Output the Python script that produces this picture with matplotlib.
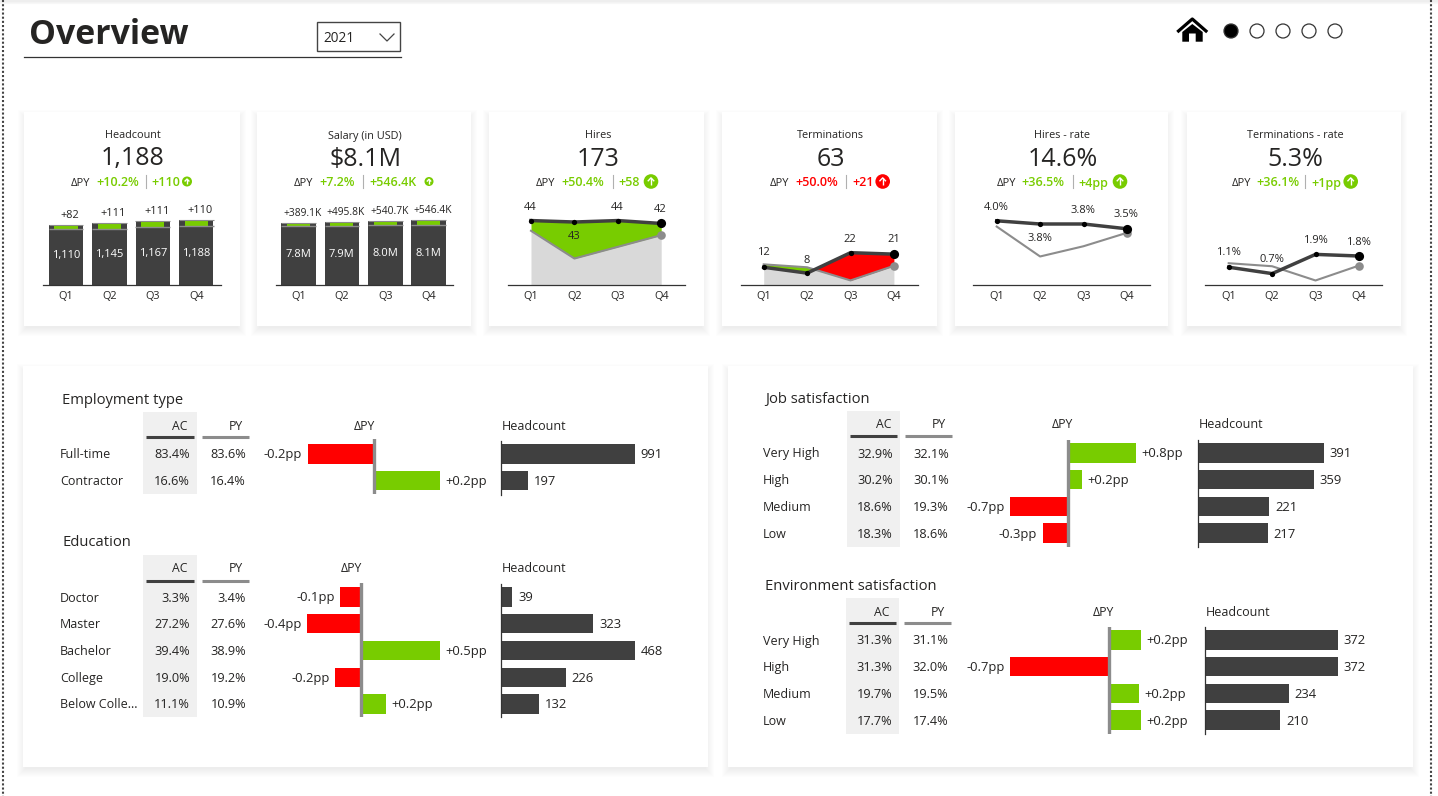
import matplotlib
matplotlib.use("Agg")
import matplotlib.pyplot as plt
from matplotlib.patches import Rectangle, Circle, Polygon

W, H = 1438, 796
GREEN = "#78CC00"
RED = "#FF0000"
DARK = "#404040"
GREY = "#8C8C8C"
AREA = "#D9D9D9"
INK = "#252423"
FONT = "Open Sans"

QUARTERS = ["Q1", "Q2", "Q3", "Q4"]

# KPI headers
kpi_titles = ["Headcount", "Salary (in USD)", "Hires", "Terminations", "Hires - rate", "Terminations - rate"]
kpi_values = ["1,188", "$8.1M", "173", "63", "14.6%", "5.3%"]
kpi_delta_pct = ["+10.2%", "+7.2%", "+50.4%", "+50.0%", "+36.5%", "+36.1%"]
kpi_delta_abs = ["+110", "+546.4K", "+58", "+21", "+4pp", "+1pp"]

# quarterly bars
headcount_ac = [1110, 1145, 1167, 1188]
headcount_delta = [82, 111, 111, 110]
salary_ac = [7.8, 7.9, 8.0, 8.1]
salary_delta = [0.3891, 0.4958, 0.5407, 0.5464]
salary_delta_labels = ["+389.1K", "+495.8K", "+540.7K", "+546.4K"]

# quarterly lines
hires_ac = [44, 43, 44, 42]
hires_py = [37, 18, 26, 34]
terminations_ac = [12, 8, 22, 21]
terminations_py = [14, 12, 3, 13]
hires_rate_ac = [4.0, 3.8, 3.8, 3.5]
hires_rate_py = [3.64, 1.77, 2.41, 3.25]
term_rate_ac = [1.1, 0.7, 1.9, 1.8]
term_rate_py = [1.35, 1.16, 0.27, 1.2]

# breakdown tables
employment_cats = ["Full-time", "Contractor"]
employment_ac = [83.4, 16.6]
employment_py = [83.6, 16.4]
employment_delta = [-0.2, 0.2]
employment_head = [991, 197]

education_cats = ["Doctor", "Master", "Bachelor", "College", "Below Colle..."]
education_ac = [3.3, 27.2, 39.4, 19.0, 11.1]
education_py = [3.4, 27.6, 38.9, 19.2, 10.9]
education_delta = [-0.145, -0.37, 0.54, -0.18, 0.17]
education_head = [39, 323, 468, 226, 132]

satisfaction_cats = ["Very High", "High", "Medium", "Low"]
job_ac = [32.9, 30.2, 18.6, 18.3]
job_py = [32.1, 30.1, 19.3, 18.6]
job_delta = [0.8, 0.16, -0.68, -0.3]
job_head = [391, 359, 221, 217]

env_ac = [31.3, 31.3, 19.7, 17.7]
env_py = [31.1, 32.0, 19.5, 17.4]
env_delta = [0.23, -0.7, 0.21, 0.23]
env_head = [372, 372, 234, 210]

plt.rcParams["font.family"] = [FONT, "DejaVu Sans"]

fig = plt.figure(figsize=(W / 100, H / 100), dpi=100, facecolor="white")

# page layer, in pixel coordinates
page = fig.add_axes([0, 0, 1, 1])
page.set_xlim(0, W)
page.set_ylim(H, 0)
page.axis("off")


def px_axes(left, top, right, bottom):
    ax = fig.add_axes([left / W, 1 - bottom / H, (right - left) / W, (bottom - top) / H])
    ax.patch.set_alpha(0)
    return ax


def card(left, top, right, bottom):
    # soft drop shadow, stronger towards the bottom edge
    for grow in range(-2, 7):
        page.add_patch(Rectangle((left - grow, top - grow + 4), right - left + 2 * grow,
                                 bottom - top + 2 * grow, fc="black", ec="none", alpha=0.007))
    page.add_patch(Rectangle((left, top), right - left, bottom - top, fc="white", ec="none"))


def text(x, y, s, size=9, color=INK, ha="left", **kw):
    page.text(x, y + 1, s, fontsize=size, color=color, ha=ha, va="center", **kw)


def kpi_header(i, center, dpy_x, pct_x, sep_x, abs_x, icon_x, icon_r, color=GREEN):
    text(center, 135, kpi_titles[i], size=7.8, ha="center")
    text(center + 0.5, 158, kpi_values[i], size=18, ha="center")
    text(dpy_x, 182, "ΔPY", size=8, ha="left")
    text(pct_x, 182, kpi_delta_pct[i], size=9, color=color, ha="left", fontweight="semibold")
    page.plot([sep_x, sep_x], [175, 188], color="#B0B0B0", lw=0.8)
    text(abs_x, 182, kpi_delta_abs[i], size=9, color=color, ha="left", fontweight="semibold")
    page.add_patch(Circle((icon_x, 181.5), icon_r, fc=color, ec="none"))
    page.plot([icon_x, icon_x], [181.5 + icon_r * 0.5, 181.5 - icon_r * 0.5], color="white", lw=1, solid_capstyle="butt")
    page.plot([icon_x - icon_r * 0.38, icon_x, icon_x + icon_r * 0.38],
              [181.5 - icon_r * 0.1, 181.5 - icon_r * 0.5, 181.5 - icon_r * 0.1], color="white", lw=1)


def spark_axes(first_x, left, right, y_scale):
    pitch = 43.4
    base = 284.8
    ax = px_axes(left, 190, right, base)
    ax.set_xlim((left - first_x) / pitch, (right - first_x) / pitch)
    ax.set_ylim(0, (base - 190) / y_scale)
    for side in ["top", "left", "right"]:
        ax.spines[side].set_visible(False)
    ax.spines["bottom"].set_color("#333333")
    ax.spines["bottom"].set_linewidth(0.9)
    ax.set_yticks([])
    ax.set_xticks(range(4), QUARTERS)
    ax.tick_params(axis="x", length=0, pad=4.5, labelsize=7.8, labelcolor=INK)
    return ax


def bars(first_x, left, right, y_scale, ac, delta, labels, bar_labels, label_size):
    ax = spark_axes(first_x, left, right, y_scale)
    py = [a - d for a, d in zip(ac, delta)]
    x = list(range(4))
    ax.bar(x, ac, width=0.795, color=DARK)
    ax.hlines(ac, [i - 0.4 for i in x], [i + 0.4 for i in x], color=GREY, lw=0.8)
    ax.hlines(py, [i - 0.4 for i in x], [i + 0.4 for i in x], color=GREY, lw=1)
    ax.bar(x, delta, bottom=py, width=0.53, color=GREEN)
    for i in x:
        ax.annotate(labels[i], (i, ac[i]), xytext=(2.8, 6.8), textcoords="offset points",
                    ha="center", va="center", fontsize=label_size, color=INK)
        ax.annotate(bar_labels[i], (i, ac[i] * 0.5), xytext=(0, -0.5), textcoords="offset points",
                    ha="center", va="center", fontsize=8, color="white")
    return ax


def lines(first_x, left, right, y_scale, ac, py, labels, label_dy, fill=None):
    ax = spark_axes(first_x, left, right, y_scale)
    x = list(range(4))
    if fill is not None:
        above, below = fill
        ax.fill_between(x, py, color=AREA, lw=0)
        ax.fill_between(x, ac, py, where=[a >= p for a, p in zip(ac, py)], interpolate=True, color=above, lw=0)
        ax.fill_between(x, ac, py, where=[a < p for a, p in zip(ac, py)], interpolate=True, color=below, lw=0)
    ax.plot(x, py, color=GREY, lw=1.5, clip_on=False)
    ax.plot(x[-1], py[-1], "o", color=GREY, ms=6.2, mew=0, clip_on=False)
    ax.plot(x, ac, color=DARK, lw=2.5, clip_on=False)
    ax.plot(x, ac, "o", color="black", ms=3.8, mew=0, clip_on=False)
    ax.plot(x[-1], ac[-1], "o", color="black", ms=6.6, mew=0, clip_on=False)
    for i in x:
        ax.annotate(labels[i], (i, ac[i]), xytext=(-0.4, label_dy[i] - 0.7), textcoords="offset points",
                    ha="center", va="center", fontsize=8, color=INK)
    return ax


def table(title, cats, ac, py, delta, head, title_xy, cat_x, bg, header_y, line_y, first_y,
          pitch, delta_center, zero_x, delta_scale, delta_span, head_x, head_scale, head_span):
    n = len(cats)
    bg_l, bg_r, bg_t, bg_b = bg
    text(title_xy[0], title_xy[1] + 1, title, size=10.6)
    page.add_patch(Rectangle((bg_l, bg_t), bg_r - bg_l, bg_b - bg_t, fc="#F0F0F0", ec="none"))
    text(bg_r - 9, header_y, "AC", size=8.8, ha="right")
    text(bg_r + 46, header_y, "PY", size=8.8, ha="right")
    page.plot([bg_l + 3, bg_r - 3], [line_y, line_y], color=DARK, lw=2.2, solid_capstyle="butt")
    page.plot([bg_r + 5, bg_r + 52], [line_y, line_y], color=GREY, lw=2.2, solid_capstyle="butt")
    text(delta_center, header_y, "ΔPY", size=8.8, ha="center")
    text(head_x + 1, header_y, "Headcount", size=9)
    for i in range(n):
        y = first_y + i * pitch
        text(cat_x, y, cats[i], size=9)
        text(bg_r - 7, y, f"{ac[i]:.1f}%", size=9.2, ha="right")
        text(bg_r + 49, y, f"{py[i]:.1f}%", size=9.2, ha="right")

    # deviation bars
    rows = list(range(n))
    d_ax = px_axes(zero_x - 170, delta_span[0], zero_x + 170, delta_span[1])
    d_ax.set_xlim(-170 / delta_scale, 170 / delta_scale)
    d_ax.set_ylim((delta_span[1] - first_y) / pitch, (delta_span[0] - first_y) / pitch)
    d_ax.axis("off")
    colors = [GREEN if v > 0 else RED for v in delta]
    d_ax.barh(rows, delta, height=0.72, color=colors)
    d_ax.axvline(0, color=GREY, lw=2.4)
    for i, v in enumerate(delta):
        off = 3.8 if v > 0 else -3.8
        d_ax.annotate(f"{v:+.1f}pp", (v, i), xytext=(off, -0.7), textcoords="offset points",
                      ha="left" if v > 0 else "right", va="center", fontsize=9.4, color=INK)

    # headcount bars
    h_ax = px_axes(head_x, head_span[0], head_x + 200, head_span[1])
    h_ax.set_xlim(0, 200 / head_scale)
    h_ax.set_ylim((head_span[1] - first_y) / pitch, (head_span[0] - first_y) / pitch)
    h_ax.barh(rows, head, height=0.72, color=DARK)
    for side in ["top", "bottom", "right"]:
        h_ax.spines[side].set_visible(False)
    h_ax.spines["left"].set_linewidth(0.9)
    h_ax.spines["left"].set_color("#333333")
    h_ax.set_xticks([])
    h_ax.set_yticks([])
    for i, v in enumerate(head):
        h_ax.annotate(f"{v}", (v, i), xytext=(4.2, -0.7), textcoords="offset points",
                      ha="left", va="center", fontsize=9.4, color=INK)


# page furniture
for y in range(0, 4):
    page.plot([0, W], [y, y], color="black", alpha=0.06 - y * 0.012, lw=1)
for x in (2.5, 1430.5):
    page.plot([x, x], [0, H], color="#444444", lw=1.5, linestyle=(0, (1, 1)))

text(29, 34.5, "Overview", size=24.4, color=INK, fontweight="bold")
page.plot([24, 401], [57, 57], color="#333333", lw=0.9)
page.add_patch(Rectangle((317, 22), 83, 28.5, fc="white", ec="#444444", lw=1))
text(323, 37, "2021", size=9.8)
page.plot([380, 387, 394], [34, 41, 34], color="#444444", lw=0.9)

page.plot([1178.5, 1192.3, 1206], [31, 19, 31], color="black", lw=2.3)
page.add_patch(Polygon([(1192.3, 24), (1202.7, 32), (1202.7, 41.7), (1195.7, 41.7), (1195.7, 33.5),
                        (1189, 33.5), (1189, 41.7), (1182.3, 41.7), (1182.3, 32)], fc="black", ec="none"))
for i, x in enumerate([1231, 1257, 1283, 1309, 1335]):
    page.add_patch(Circle((x, 31), 7, fc="black" if i == 0 else "white", ec="#333333", lw=0.9))

# KPI cards
for left, right in [(24, 240), (257, 471), (489, 704), (722, 937), (955, 1168), (1187, 1401)]:
    card(left, 112, right, 326)

kpi_header(0, 132.5, 71, 96, 145.5, 151, 187, 5)
kpi_header(1, 365, 294, 319.5, 362.5, 369, 429, 4.5)
kpi_header(2, 597.7, 536, 561, 612.5, 618.7, 651, 7.3)
kpi_header(3, 830, 770, 795, 846, 852, 882.7, 7.3, color=RED)
kpi_header(4, 1062, 996.7, 1021.7, 1073, 1078.7, 1120, 7.3)
kpi_header(5, 1295, 1231.7, 1256.7, 1304.7, 1311, 1350.7, 7.3)

bars(66, 43, 221, 0.0543, headcount_ac, headcount_delta,
     [f"+{v}" for v in headcount_delta], [f"{v:,}" for v in headcount_ac], 7.8)
bars(298.5, 276, 452.5, 7.96, salary_ac, salary_delta,
     salary_delta_labels, [f"{v:.1f}M" for v in salary_ac], 7.4)

lines(531, 508, 685, 1.46, hires_ac, hires_py, [str(v) for v in hires_ac], [10, -10, 10, 11], fill=(GREEN, GREEN))
lines(763.7, 740.7, 917.7, 1.46, terminations_ac, terminations_py, [str(v) for v in terminations_ac],
      [11, 10, 10.5, 11], fill=(RED, GREEN))
lines(996.7, 973.3, 1149.7, 16, hires_rate_ac, hires_rate_py, [f"{v:.1f}%" for v in hires_rate_ac], [10, -9.5, 10.5, 11])
lines(1228.7, 1205, 1382.3, 16, term_rate_ac, term_rate_py, [f"{v:.1f}%" for v in term_rate_ac], [11, 10.5, 10.5, 10.5])

# breakdown cards
card(23, 366, 708, 767)
card(728, 366, 1413, 767)

table("Employment type", employment_cats, employment_ac, employment_py, employment_delta, employment_head,
      (62, 398), 60, (143, 197, 412, 494), 425, 437, 454, 26.5, 364, 374, 332, (439, 494), 501, 0.135, (441, 495))
table("Education", education_cats, education_ac, education_py, education_delta, education_head,
      (62, 541), 60, (143, 197, 555, 717), 568, 580.5, 597, 26.75, 351, 361, 146, (583, 717), 501, 0.2863, (584, 717))
table("Job satisfaction", satisfaction_cats, job_ac, job_py, job_delta, job_head,
      (765, 397), 763, (847, 900, 411, 547), 424, 436, 453, 26.7, 1062, 1068, 85, (440, 547), 1198, 0.322, (440, 547))
table("Environment satisfaction", satisfaction_cats, env_ac, env_py, env_delta, env_head,
      (765, 584), 763, (846, 899, 598, 734), 611, 623, 640, 26.7, 1103, 1109, 141, (627, 734), 1205, 0.3575, (627, 734))

fig.savefig("out.png", dpi=100)
